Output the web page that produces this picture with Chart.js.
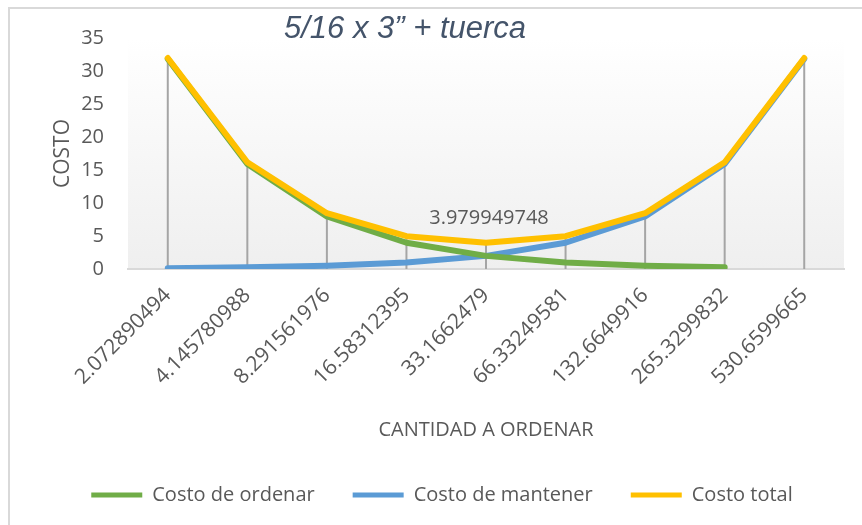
<!DOCTYPE html>
<html>
<head>
<meta charset="utf-8">
<script src="https://cdn.jsdelivr.net/npm/chart.js@4"></script>
<style>
  html, body { margin: 0; padding: 0; background: #fff; }
  #wrap { position: relative; width: 862px; height: 525px; }
  #frame { position: absolute; left: 8px; top: 7px; width: 900px; height: 600px; border: 2px solid #d9d9d9; pointer-events: none; }
</style>
</head>
<body>
<div id="wrap">
  <canvas id="myChart" width="862" height="525"></canvas>
  <div id="frame"></div>
</div>
<script>
// Datos
const cantidades = ['2.072890494', '4.145780988', '8.291561976', '16.58312395', '33.1662479',
  '66.33249581', '132.6649916', '265.3299832', '530.6599665'];
const costoOrdenar = [31.8396, 15.9198, 7.9599, 3.97995, 1.98997, 0.99499, 0.49749, 0.24875, null];
const costoMantener = [0.12437, 0.24875, 0.49749, 0.99499, 1.98997, 3.97995, 7.9599, 15.9198, 31.8396];
const costoTotal = [31.96397, 16.16855, 8.45739, 4.97494, 3.979949748, 4.97494, 8.45739, 16.16855, 31.96397];
const ticksY = [0, 5, 10, 15, 20, 25, 30, 35];
const etiquetaIndice = 4;
const titulo = '5/16 x 3\u201D + tuerca';

Chart.defaults.font.family = "'Open Sans', sans-serif";
Chart.defaults.color = '#595959';

// fondo degradado del area de trazado
const fondoPlugin = {
  id: 'fondo',
  beforeDraw(chart) {
    const {ctx, chartArea: a} = chart;
    const g = ctx.createLinearGradient(0, a.top, 0, a.bottom);
    g.addColorStop(0, '#ffffff');
    g.addColorStop(1, '#efefef');
    ctx.save();
    ctx.fillStyle = g;
    ctx.fillRect(a.left, a.top, a.right - a.left, a.bottom - a.top);
    ctx.restore();
  }
};

// lineas de proyeccion
const proyeccionPlugin = {
  id: 'proyeccion',
  beforeDatasetsDraw(chart) {
    const {ctx, scales: {x, y}} = chart;
    ctx.save();
    ctx.strokeStyle = '#a5a5a5';
    ctx.lineWidth = 2;
    cantidades.forEach((c, i) => {
      const vals = chart.data.datasets.map(d => d.data[i]).filter(v => v != null);
      const top = Math.max(...vals);
      const px = x.getPixelForValue(i);
      ctx.beginPath();
      ctx.moveTo(px, y.getPixelForValue(top));
      ctx.lineTo(px, y.getPixelForValue(0));
      ctx.stroke();
    });
    ctx.restore();
  }
};

// titulo y etiqueta de datos
const textosPlugin = {
  id: 'textos',
  afterDraw(chart) {
    const {ctx, scales: {x, y}} = chart;
    ctx.save();
    ctx.font = "italic 31px 'Liberation Sans', Arial, sans-serif";
    ctx.fillStyle = '#44546a';
    ctx.textAlign = 'center';
    ctx.textBaseline = 'middle';
    ctx.fillText(titulo, 405, 29);

    const v = costoTotal[etiquetaIndice];
    ctx.font = "20px 'Open Sans', sans-serif";
    ctx.fillStyle = '#595959';
    ctx.textBaseline = 'bottom';
    ctx.fillText(String(v), x.getPixelForValue(etiquetaIndice) + 3, y.getPixelForValue(v) - 14);
    ctx.restore();
  }
};

const ctx = document.getElementById('myChart').getContext('2d');
const myChart = new Chart(ctx, {
  type: 'line',
  data: {
    labels: cantidades,
    datasets: [{
      label: 'Costo de ordenar',
      data: costoOrdenar,
      borderColor: '#70ad47',
      backgroundColor: '#70ad47',
      order: 1
    }, {
      label: 'Costo de mantener',
      data: costoMantener,
      borderColor: '#5b9bd5',
      backgroundColor: '#5b9bd5',
      order: 2
    }, {
      label: 'Costo total',
      data: costoTotal,
      borderColor: '#ffc000',
      backgroundColor: '#ffc000',
      order: 0
    }]
  },
  options: {
    responsive: false,
    animation: false,
    layout: { padding: { left: 40, right: 18, top: 38, bottom: 10 } },
    elements: {
      line: { borderWidth: 6, tension: 0, borderJoinStyle: 'round', borderCapStyle: 'round' },
      point: { radius: 0 }
    },
    scales: {
      x: {
        offset: true,
        grid: { display: false, drawTicks: false },
        border: { display: true, color: '#d9d9d9', width: 2 },
        ticks: { minRotation: 45, maxRotation: 45, autoSkip: false, padding: 14, font: { size: 21 } },
        title: { display: true, text: 'CANTIDAD A ORDENAR', font: { size: 20 }, padding: { top: 0, bottom: 5 } },
        afterFit(scale) { scale.height = 178; }
      },
      y: {
        min: 0,
        max: 35,
        grid: { display: false, drawTicks: false },
        border: { display: false },
        afterBuildTicks(scale) { scale.ticks = ticksY.map(v => ({ value: v })); },
        ticks: { padding: 24, font: { size: 20 } },
        title: { display: true, text: 'COSTO', font: { size: 21 }, padding: { top: 10, bottom: 0 } },
        afterFit(scale) { scale.width = 88; }
      }
    },
    plugins: {
      legend: {
        position: 'bottom',
        labels: {
          boxWidth: 51,
          boxHeight: 5,
          padding: 38,
          font: { size: 20 },
          sort: (a, b) => a.datasetIndex - b.datasetIndex,
          generateLabels(chart) {
            return Chart.defaults.plugins.legend.labels.generateLabels(chart)
              .map(l => Object.assign(l, { lineWidth: 0 }));
          }
        }
      },
      tooltip: { enabled: false }
    }
  },
  plugins: [fondoPlugin, proyeccionPlugin, textosPlugin]
});
</script>
</body>
</html>
